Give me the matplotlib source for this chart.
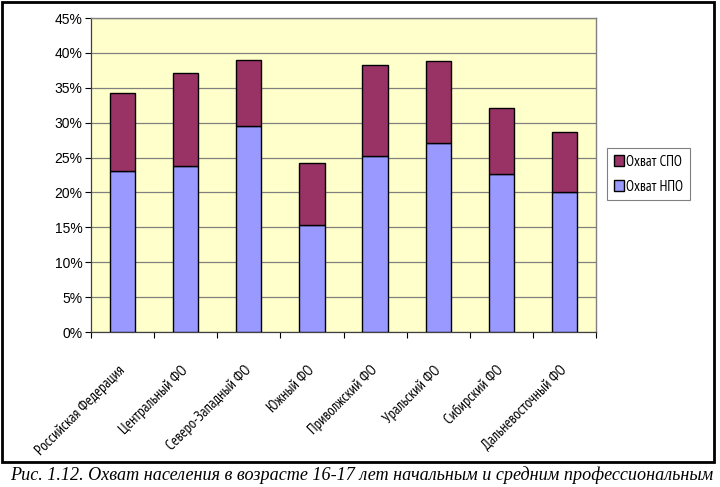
import matplotlib
matplotlib.use("Agg")
import matplotlib.pyplot as plt
from matplotlib.patches import Rectangle
from matplotlib.ticker import FixedLocator, FuncFormatter
import numpy as np

categories = ["Российская Федерация", "Центральный ФО", "Северо-Западный ФО", "Южный ФО",
              "Приволжский ФО", "Уральский ФО", "Сибирский ФО", "Дальневосточный ФО"]
npo = [23.1, 23.8, 29.5, 15.4, 25.2, 27.1, 22.6, 20.1]
total = [34.3, 37.1, 39.0, 24.2, 38.3, 38.9, 32.1, 28.7]
spo = [t - n for t, n in zip(total, npo)]
yticks = [0, 5, 10, 15, 20, 25, 30, 35, 40, 45]
caption = "Рис. 1.12. Охват населения в возрасте 16-17 лет начальным и средним профессиональным"

xfam = ["PT Sans Narrow", "Fira Sans Extra Condensed", "Liberation Sans", "DejaVu Sans"]

fig = plt.figure(figsize=(7.2, 4.87), dpi=100)
ax = fig.add_axes([91/720, 1-332/487, (596-91)/720, (332-18)/487])
ax.set_facecolor("#FFFFCC")

x = np.arange(len(categories))
ax.bar(x, npo, width=0.4, color="#9999FF", edgecolor="black", linewidth=1.0,
       label="Охват НПО", zorder=3)
ax.bar(x, spo, bottom=npo, width=0.4, color="#993366", edgecolor="black", linewidth=1.0,
       label="Охват СПО", zorder=3)

ax.set_xlim(-0.5, len(categories) - 0.5)
ax.set_ylim(0, 45)
ax.set_yticks(yticks)
ax.yaxis.set_major_formatter(FuncFormatter(lambda v, p: f"{int(v)}%"))
ax.yaxis.grid(True, color="#808080", linewidth=0.9, zorder=0)
ax.tick_params(axis="y", length=4, width=0.8, pad=2, labelsize=10, colors="black")
for lab in ax.get_yticklabels():
    lab.set_fontfamily(["Liberation Sans", "DejaVu Sans"])

ax.xaxis.set_major_locator(FixedLocator(np.arange(-0.5, len(categories), 1.0)))
ax.xaxis.set_major_formatter(FuncFormatter(lambda v, p: ""))
ax.set_xticks(x, minor=True)
ax.set_xticklabels(categories, minor=True, rotation=45, ha="right", va="center",
                   rotation_mode="anchor", fontsize=10.5, fontfamily=xfam)
ax.tick_params(axis="x", which="major", length=4, width=0.8, direction="out")
ax.tick_params(axis="x", which="minor", length=0, pad=26)

for s in ["top", "right"]:
    ax.spines[s].set_color("#808080")
    ax.spines[s].set_linewidth(1.0)
for s in ["left", "bottom"]:
    ax.spines[s].set_color("#404040")
    ax.spines[s].set_linewidth(0.9)

h, l = ax.get_legend_handles_labels()
leg = fig.legend(h[::-1], l[::-1], loc="upper left", bbox_to_anchor=(607/720, 1-148/487),
                 frameon=True, fancybox=False, edgecolor="#808080", framealpha=1,
                 handlelength=0.7, handleheight=0.7, handletextpad=0.15,
                 borderpad=0.45, labelspacing=0.75, borderaxespad=0,
                 prop={"family": xfam, "size": 10.5})
leg.get_frame().set_linewidth(0.8)

fig.patches.append(Rectangle((2/720, 1-462/487), 712/720, 460/487, transform=fig.transFigure,
                             fill=False, edgecolor="black", linewidth=2))
fig.text(361.5/720, 1-475/487, caption, ha="center", va="center", fontsize=13.1, style="italic",
         fontfamily=["Liberation Serif", "DejaVu Serif"])

fig.savefig("out.png", dpi=100)
